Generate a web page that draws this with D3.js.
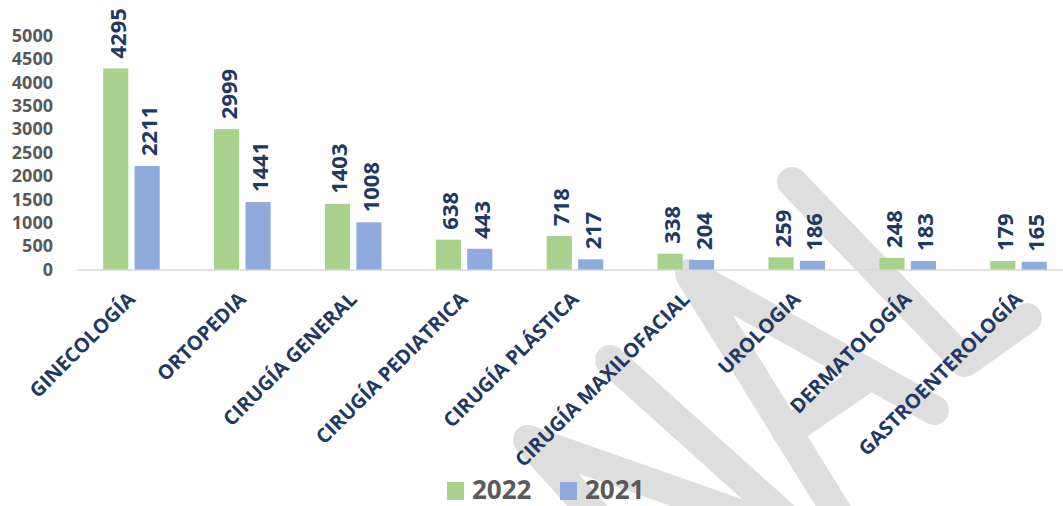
<!DOCTYPE html>
<html>
<head>
<meta charset="utf-8">
<script src="https://cdn.jsdelivr.net/npm/d3@7"></script>
<style>
  body { margin: 0; background: #fff; }
  svg { display: block; font-family: "Open Sans", sans-serif; }
</style>
</head>
<body>
<svg id="chart"></svg>
<script>
const categories = ['GINECOLOGÍA', 'ORTOPEDIA', 'CIRUGÍA GENERAL', 'CIRUGÍA PEDIATRICA', 'CIRUGÍA PLÁSTICA',
  'CIRUGÍA MAXILOFACIAL', 'UROLOGIA', 'DERMATOLOGÍA', 'GASTROENTEROLOGÍA'];
const years = ['2022', '2021'];
const values2022 = [4295, 2999, 1403, 638, 718, 338, 259, 248, 179];
const values2021 = [2211, 1441, 1008, 443, 217, 204, 186, 183, 165];
const yTicks = [0, 500, 1000, 1500, 2000, 2500, 3000, 3500, 4000, 4500, 5000];

// grey watermark strokes behind the chart
const watermark = [
  [[610, 360], [790, 522]],
  [[602, 522], [528, 440], [762, 522]],
  [[843, 522], [690, 274], [934, 410]],
  [[787, 432], [866, 378]],
  [[792, 182], [965, 362], [1027, 318]]
];

const width = 1063, height = 506;
const colors = { '2022': '#a9d18e', '2021': '#8faadc' };
const navy = '#203864';

const svg = d3.select('#chart').attr('width', width).attr('height', height);

svg.append('g').selectAll('path')
  .data(watermark)
  .enter().append('path')
  .attr('d', d3.line())
  .attr('fill', 'none')
  .attr('stroke', '#dedede')
  .attr('stroke-width', 30)
  .attr('stroke-linecap', 'round')
  .attr('stroke-linejoin', 'round');

const x = d3.scaleBand().domain(categories).range([76, 1074]).paddingInner(0.49).paddingOuter(0.245);
const xs = d3.scaleBand().domain(years).range([0, x.bandwidth()]).paddingInner(0.2);
const y = d3.scaleLinear().domain([0, 5000]).range([269.5, 35.5]);

const rows = categories.map((c, i) => ({ cat: c, '2022': values2022[i], '2021': values2021[i] }));

// y axis labels
const yAxis = svg.append('g')
  .attr('transform', 'translate(53,0)')
  .call(d3.axisLeft(y).tickValues(yTicks).tickFormat(d3.format('d')).tickSize(0).tickPadding(0));
yAxis.select('.domain').remove();
yAxis.selectAll('text')
  .attr('fill', '#595959')
  .style('font-size', '18px')
  .style('font-weight', 700)
  .style('font-family', '"Open Sans", sans-serif');

// x axis with rotated labels
const xAxis = svg.append('g')
  .attr('transform', `translate(0,${y(0)})`)
  .call(d3.axisBottom(x).tickSize(0).tickSizeOuter(0));
xAxis.select('.domain').attr('stroke', '#d9d9d9').attr('stroke-width', 1.5);
xAxis.selectAll('text')
  .attr('dy', null)
  .attr('x', 5)
  .attr('y', 31)
  .attr('transform', 'rotate(-45,5,31)')
  .attr('text-anchor', 'end')
  .attr('fill', navy)
  .style('font-size', '20px')
  .style('font-weight', 700)
  .style('font-family', '"Open Sans", sans-serif');

const groups = svg.append('g').selectAll('g')
  .data(rows)
  .enter().append('g')
  .attr('transform', d => `translate(${x(d.cat)},0)`);

groups.selectAll('rect')
  .data(d => years.map(k => ({ key: k, value: d[k] })))
  .enter().append('rect')
  .attr('x', d => xs(d.key))
  .attr('y', d => y(d.value))
  .attr('width', xs.bandwidth())
  .attr('height', d => y(0) - y(d.value))
  .attr('fill', d => colors[d.key]);

groups.selectAll('text')
  .data(d => years.map(k => ({ key: k, value: d[k] })))
  .enter().append('text')
  .attr('transform', d => `translate(${xs(d.key) + xs.bandwidth() / 2 + 2},${y(d.value) - 10}) rotate(-90)`)
  .attr('dy', '0.36em')
  .attr('fill', navy)
  .style('font-size', '22px')
  .style('font-weight', 700)
  .text(d => d.value);

// legend
const legend = svg.append('g').selectAll('g')
  .data(years)
  .enter().append('g')
  .attr('transform', (d, i) => `translate(${447 + i * 113},0)`);
legend.append('rect')
  .attr('x', 0).attr('y', 482)
  .attr('width', 17).attr('height', 18)
  .attr('fill', d => colors[d]);
legend.append('text')
  .attr('x', 25).attr('y', 498.5)
  .attr('fill', '#595959')
  .style('font-size', '26px')
  .style('font-weight', 700)
  .text(d => d);
</script>
</body>
</html>
